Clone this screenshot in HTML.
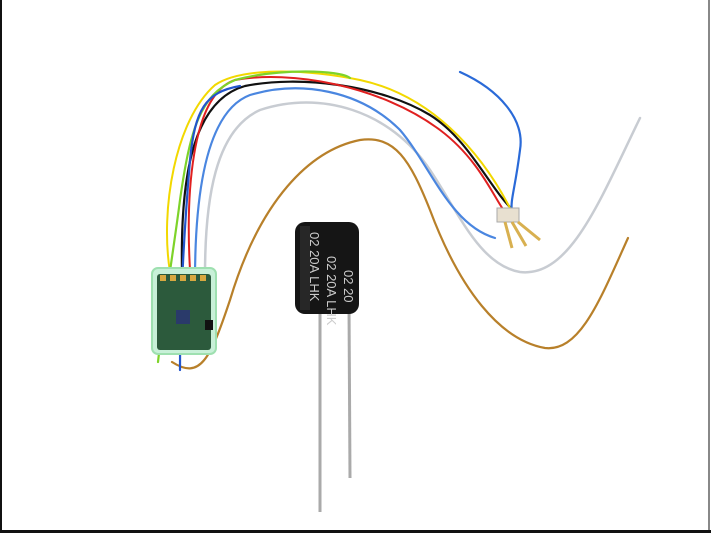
<!DOCTYPE html>
<html><head><style>
html,body{margin:0;padding:0;background:#fff}
svg{display:block}
</style></head><body>
<svg width="711" height="533" viewBox="0 0 711 533" xmlns="http://www.w3.org/2000/svg">
<rect width="711" height="533" fill="#fff"/>
<rect x="0" y="0" width="2" height="533" fill="#111"/>
<rect x="708" y="0" width="2" height="533" fill="#888"/>
<rect x="0" y="530" width="711" height="3" fill="#111"/>
<g fill="none" stroke-linecap="round">
<path d="M172 362 C200 380 210 360 230 300 C260 200 310 150 360 140 C395 135 410 160 430 210 C460 290 500 340 545 348 C580 352 600 300 628 238" stroke="#b8802a" stroke-width="2.2"/>
<path d="M205 275 C205 200 215 130 260 110 C320 90 390 110 430 170 C460 215 480 265 520 272 C570 278 600 200 640 118" stroke="#c8ccd2" stroke-width="2.5"/>
<path d="M195 280 C195 180 210 110 250 95 C300 80 360 90 400 130 C430 165 450 225 495 238" stroke="#4a86e0" stroke-width="2.2"/>
<path d="M182 272 C180 170 195 100 245 86 C300 75 380 85 430 115 C470 140 490 190 515 212" stroke="#111" stroke-width="2.2"/>
<path d="M190 270 C186 200 190 95 235 80 C290 70 380 85 440 130 C480 160 495 200 505 212" stroke="#e02020" stroke-width="2"/>
<path d="M170 272 C160 210 175 120 215 85 C240 68 300 68 360 80 C430 95 480 150 510 208" stroke="#f2d800" stroke-width="2"/>
<path d="M158 362 C165 300 175 240 180 200 C190 130 200 95 235 80 C280 68 340 70 350 78" stroke="#7ed32a" stroke-width="2.2"/>
<path d="M180 370 C180 300 185 220 190 160 C195 110 205 92 240 86" stroke="#2255cc" stroke-width="2.2"/>
<path d="M460 72 C500 90 525 120 520 150 C515 190 510 200 512 212" stroke="#2a6ad8" stroke-width="2.2"/>
</g>
<rect x="497" y="208" width="22" height="14" fill="#e8e0d0" stroke="#aaa"/>
<path d="M505 222 L512 248 M512 222 L526 246 M518 222 L540 240" stroke="#d8b050" stroke-width="3" fill="none"/>
<rect x="152" y="268" width="64" height="86" rx="6" fill="#c8f0d8" stroke="#9ee0b0" stroke-width="2"/>
<rect x="157" y="274" width="54" height="76" rx="3" fill="#2c5a3c"/>
<rect x="160" y="275" width="6" height="6" fill="#d8a840"/><rect x="170" y="275" width="6" height="6" fill="#d8a840"/><rect x="180" y="275" width="6" height="6" fill="#d8a840"/><rect x="190" y="275" width="6" height="6" fill="#d8a840"/><rect x="200" y="275" width="6" height="6" fill="#d8a840"/>
<rect x="205" y="320" width="8" height="10" fill="#111"/>
<rect x="176" y="310" width="14" height="14" fill="#2a3a6a"/>
<line x1="320" y1="305" x2="320" y2="512" stroke="#aaa" stroke-width="3"/>
<line x1="349" y1="305" x2="350" y2="478" stroke="#aaa" stroke-width="3"/>
<rect x="295" y="222" width="64" height="92" rx="10" fill="#151515"/>
<rect x="300" y="226" width="10" height="84" fill="#333" opacity=".6"/>
<text transform="translate(310,232) rotate(90)" font-family="Liberation Sans,sans-serif" font-size="13" fill="#ccc">02 20A LHK</text>
<text transform="translate(327,256) rotate(90)" font-family="Liberation Sans,sans-serif" font-size="13" fill="#ccc">02 20A LHK</text>
<text transform="translate(344,270) rotate(90)" font-family="Liberation Sans,sans-serif" font-size="13" fill="#ccc">02 20</text>
</svg>
</body></html>
